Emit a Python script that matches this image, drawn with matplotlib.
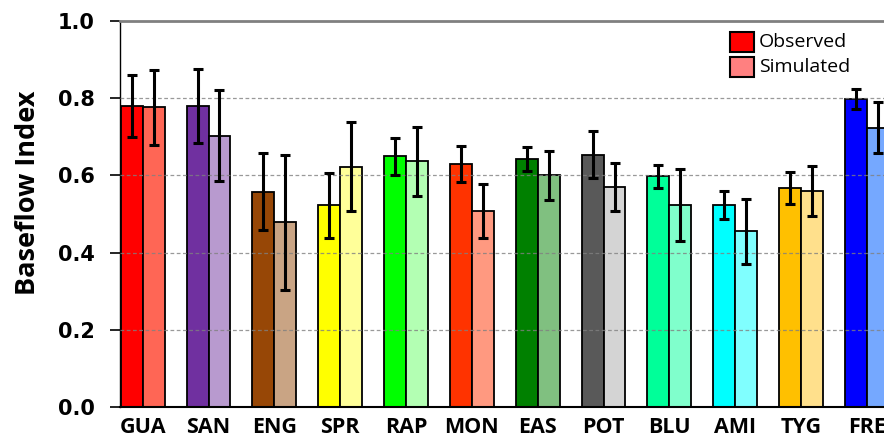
import matplotlib.pyplot as plt
from matplotlib.patches import Rectangle
import numpy as np

plt.rcParams['font.family'] = ['Open Sans', 'DejaVu Sans']

sites = ['GUA', 'SAN', 'ENG', 'SPR', 'RAP', 'MON', 'EAS', 'POT', 'BLU', 'AMI', 'TYG', 'FRE']
observed = [0.780, 0.780, 0.558, 0.523, 0.650, 0.630, 0.642, 0.653, 0.598, 0.523, 0.568, 0.798]
observed_err = [0.081, 0.095, 0.100, 0.084, 0.048, 0.046, 0.031, 0.061, 0.030, 0.037, 0.041, 0.026]
simulated = [0.777, 0.703, 0.478, 0.623, 0.636, 0.508, 0.600, 0.571, 0.523, 0.455, 0.560, 0.724]
simulated_err = [0.097, 0.117, 0.175, 0.115, 0.090, 0.070, 0.064, 0.062, 0.093, 0.084, 0.065, 0.066]

obs_colors = ['#FF0000', '#7030A0', '#974706', '#FFFF00', '#00FF00', '#FF3300',
              '#008000', '#595959', '#00FF99', '#00FFFF', '#FFC000', '#0000FF']
sim_colors = ['#FF6655', '#B89ACF', '#C9A484', '#FFFF99', '#B3FFB3', '#FF9980',
              '#80C080', '#D4D4D4', '#80FFCC', '#80FFFF', '#FFE08C', '#75A8FF']

x = np.arange(len(sites))
w = 1 / 3

fig = plt.figure(figsize=(8.84, 4.37), dpi=100)
ax = fig.add_axes([0.1357, 0.0686, 0.8643, 0.8834])

err_kw = dict(ecolor='black', elinewidth=2.2, capsize=3.6, capthick=2.2, zorder=4)
ax.bar(x - w / 2, observed, w, yerr=observed_err, color=obs_colors,
       edgecolor='black', linewidth=1.3, error_kw=err_kw, zorder=2)
ax.bar(x + w / 2, simulated, w, yerr=simulated_err, color=sim_colors,
       edgecolor='black', linewidth=1.3, error_kw=err_kw, zorder=2)

# dashed grid sits over the bars, faintly
for g in [0.2, 0.4, 0.6, 0.8]:
    ax.axhline(g, color='#808080', lw=0.9, ls=(0, (3, 2)), alpha=0.8, zorder=3)

ax.set_ylim(0, 1.0)
ax.set_xlim(-0.345, 11.26)
ax.set_yticks([0.0, 0.2, 0.4, 0.6, 0.8, 1.0])
ax.set_yticklabels(['0.0', '0.2', '0.4', '0.6', '0.8', '1.0'], fontsize=15,
                   fontweight='bold', family='DejaVu Sans')
ax.set_xticks(x)
ax.set_xticklabels(sites, fontsize=15.5, fontweight='bold')
ax.tick_params(axis='x', length=0, pad=7)
ax.tick_params(axis='y', length=7, width=1.2, direction='out', pad=11)
ax.set_ylabel('Baseflow Index', fontsize=19.5, fontweight='bold')
ax.yaxis.set_label_coords(-0.103, 0.556)

ax.spines['right'].set_visible(False)
ax.spines['top'].set_color('#808080')
ax.spines['top'].set_linewidth(2)
ax.spines['left'].set_linewidth(1)
ax.spines['bottom'].set_linewidth(1.5)

# legend swatches, placed in figure pixels
W, H = 884, 437
for y0, fc, label in [(32, '#FF0000', 'Observed'), (57, '#FF8080', 'Simulated')]:
    fig.add_artist(Rectangle((730 / W, 1 - (y0 + 20) / H), 24 / W, 20 / H,
                             transform=fig.transFigure, facecolor=fc,
                             edgecolor='black', linewidth=1.5))
    fig.text(759 / W, 1 - (y0 + 10) / H, label, fontsize=14, va='center', ha='left')

fig.savefig('out.png', dpi=100)
